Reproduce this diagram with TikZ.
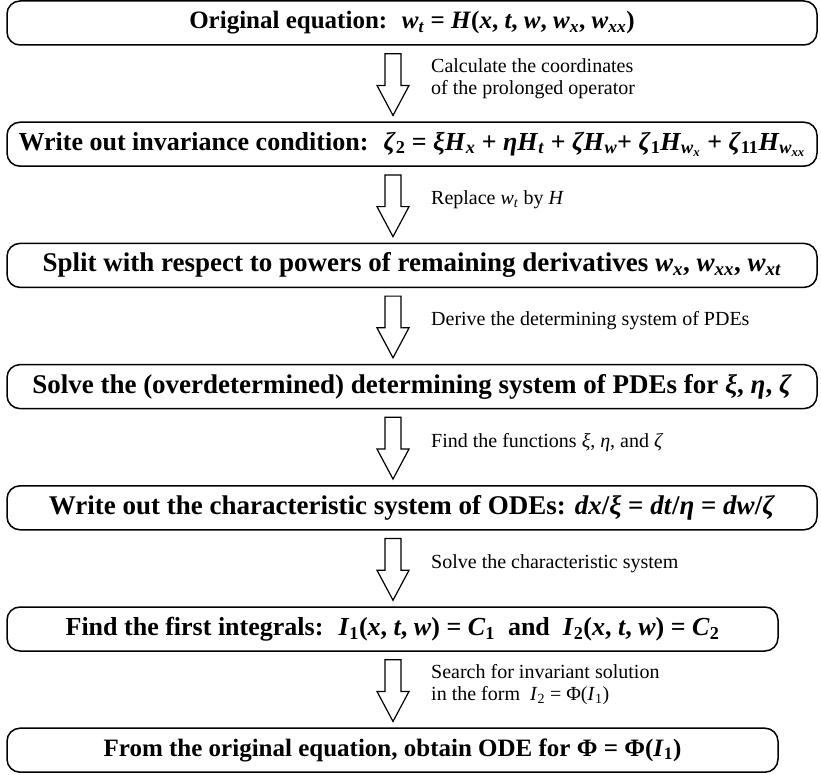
\documentclass[tikz,border=0pt]{standalone}
\usepackage{fontspec}
\setmainfont{Liberation Serif}
\usetikzlibrary{calc}

% italic letters and text subscripts for the formulas
\newcommand{\vi}[1]{\textit{#1}}
\newcommand{\lo}[1]{\textsubscript{#1}}

\begin{document}
\begin{tikzpicture}[x=1pt,y=1pt,
		stage/.style={draw,line width=1.5pt,rounded corners=13pt,minimum height=44pt,inner sep=0pt,
			font=\fontsize{#1}{#1}\selectfont\bfseries},
		stage/.default=27,
		wide/.style={minimum width=810pt},
		narrow/.style={minimum width=771pt},
		note/.style={anchor=west,align=left,inner sep=0pt,font=\fontsize{20}{22}\selectfont},
		block arrow/.style={draw,line width=1.2pt,fill=white}]
		\useasboundingbox (0,0) rectangle (821,774);
		\coordinate (ax) at (393,0);
		\coordinate (lx) at (431,0);
		% the stages
		\node[stage=25,wide] (b1) at (412,751) {Original equation:~ \vi{w}\lo{\vi{t}} = \vi{H}(\vi{x}, \vi{t}, \vi{w}, \vi{w}\lo{\vi{x}}, \vi{w}\lo{\vi{xx}})};
		\node[stage=26,wide] (b2) at (412,629.8) {Write out invariance condition:~ \vi{ζ}\lo{2} = \vi{ξH}\lo{\vi{x}} + \vi{ηH}\lo{\vi{t}} + \vi{ζH}\lo{\vi{w}}+ \vi{ζ}\lo{1}\vi{H}\lo{\vi{w}\lo{\vi{x}}} + \vi{ζ}\lo{11}\vi{H}\lo{\vi{w}\lo{\vi{xx}}}};
		\node[stage,wide] (b3) at (412,508.6) {Split with respect to powers of remaining derivatives \vi{w}\lo{\vi{x}}, \vi{w}\lo{\vi{xx}}, \vi{w}\lo{\vi{xt}}};
		\node[stage,wide] (b4) at (412,387.4) {Solve the (overdetermined) determining system of PDEs for \vi{ξ}, \vi{η}, \vi{ζ}};
		\node[stage,wide] (b5) at (412,266.2) {Write out the characteristic system of ODEs: \vi{dx}/\vi{ξ} = \vi{dt}/\vi{η} = \vi{dw}/\vi{ζ}};
		\node[stage=26,narrow] (b6) at (392.5,145) {Find the first integrals:~ \vi{I}\lo{1}(\vi{x}, \vi{t}, \vi{w}) = \vi{C}\lo{1}~ and~ \vi{I}\lo{2}(\vi{x}, \vi{t}, \vi{w}) = \vi{C}\lo{2}};
		\node[stage=25,narrow] (b7) at (392.5,23.8) {From the original equation, obtain ODE for Φ = Φ(\vi{I}\lo{1})};
		% hollow arrows between the stages
		\foreach \a/\b in {b1/b2,b2/b3,b3/b4,b4/b5,b5/b6,b6/b7}
			\draw[block arrow] let \p1=(\a.south -| ax), \p2=(\b.north -| ax) in
				(\x1-8pt,\y1-8pt) -- (\x1+8pt,\y1-8pt) -- (\x1+8pt,\y2+36pt) -- (\x1+16pt,\y2+36pt)
				-- (\x1,\y2+6pt) -- (\x1-16pt,\y2+36pt) -- (\x1-8pt,\y2+36pt) -- cycle;
		% what is done at each arrow
		\node[note] (n1) at ($(b1.south -| lx)!.5!(b2.north -| lx)+(0,5)$) {Calculate the coordinates\\of the prolonged operator};
		\node[note] (n2) at ($(b2.south -| lx)!.5!(b3.north -| lx)+(0,5)$) {Replace \vi{w}\lo{\vi{t}} by \vi{H}};
		\node[note] (n3) at ($(b3.south -| lx)!.5!(b4.north -| lx)+(0,5)$) {Derive the determining system of PDEs};
		\node[note] (n4) at ($(b4.south -| lx)!.5!(b5.north -| lx)+(0,5)$) {Find the functions \vi{ξ}, \vi{η}, and \vi{ζ}};
		\node[note] (n5) at ($(b5.south -| lx)!.5!(b6.north -| lx)+(0,5)$) {Solve the characteristic system};
		\node[note] (n6) at ($(b6.south -| lx)!.5!(b7.north -| lx)+(0,5)$) {Search for invariant solution\\in the form~ \vi{I}\lo{2} = Φ(\vi{I}\lo{1})};
	\end{tikzpicture}
\end{document}
